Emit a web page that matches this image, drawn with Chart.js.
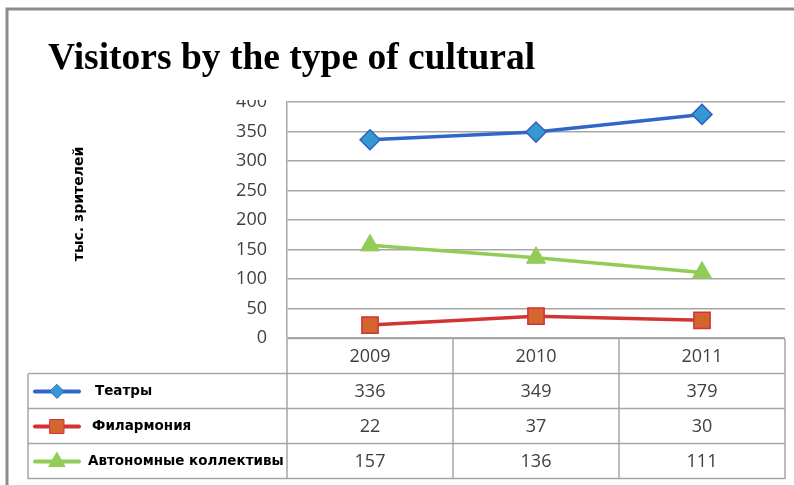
<!DOCTYPE html>
<html>
<head>
<meta charset="utf-8">
<script src="https://cdn.jsdelivr.net/npm/chart.js@4"></script>
<style>
  html, body { margin: 0; padding: 0; background: #fff; }
  canvas { display: block; }
</style>
</head>
<body>
<canvas id="grafica" width="794" height="485"></canvas>
<script>
const years = ['2009', '2010', '2011'];
const teatry = [336, 349, 379];
const filarmonia = [22, 37, 30];
const kollektivy = [157, 136, 111];
const seriesNames = ['Театры', 'Филармония', 'Автономные коллективы'];
const yTicks = [0, 50, 100, 150, 200, 250, 300, 350, 400];

const numFont = '18px "Open Sans", "Noto Sans", sans-serif';
const numColor = '#404040';
const gridColor = '#a6a6a6';

// tabla de datos bajo el eje x + titulo + marco
const tablaPlugin = {
    id: 'tabla',
    afterDraw(chart) {
        const ctx = chart.ctx;
        const area = chart.chartArea;
        const x = chart.scales.x;
        const ds = chart.data.datasets;
        const left = 28, rowH = 35, top = area.bottom + 1;
        const colW = (area.right - area.left) / years.length;
        ctx.save();

        // marco exterior
        ctx.strokeStyle = '#8c8c8c';
        ctx.lineWidth = 3;
        ctx.beginPath();
        ctx.moveTo(7, 485);
        ctx.lineTo(7, 9);
        ctx.lineTo(794, 9);
        ctx.stroke();

        // titulo
        ctx.fillStyle = '#000';
        ctx.font = 'bold 37.5px "Liberation Serif", "Times New Roman", serif';
        ctx.textBaseline = 'alphabetic';
        ctx.textAlign = 'left';
        ctx.fillText('Visitors by the type of cultural', 48, 69);

        // recorte del 400 como en el original
        ctx.fillStyle = '#fff';
        ctx.fillRect(220, 84, 64, 16);

        // titulo eje y
        ctx.save();
        ctx.translate(79, 204);
        ctx.rotate(-Math.PI / 2);
        ctx.fillStyle = '#000';
        ctx.font = 'bold 14px "DejaVu Sans", sans-serif';
        ctx.textAlign = 'center';
        ctx.textBaseline = 'middle';
        ctx.fillText('тыс. зрителей', 0, 0);
        ctx.restore();

        // lineas de la tabla
        ctx.strokeStyle = gridColor;
        ctx.lineWidth = 1.5;
        ctx.beginPath();
        for (let r = 0; r <= 4; r++) {
            const yy = top + r * rowH - 0.5;
            ctx.moveTo(r === 0 ? area.left : left, yy);
            ctx.lineTo(area.right, yy);
        }
        ctx.moveTo(left, top + rowH);
        ctx.lineTo(left, top + 4 * rowH);
        for (let c = 0; c <= years.length; c++) {
            const xx = area.left + c * colW;
            ctx.moveTo(xx, top);
            ctx.lineTo(xx, top + 4 * rowH);
        }
        ctx.stroke();

        // años y valores
        ctx.font = numFont;
        ctx.fillStyle = numColor;
        ctx.textAlign = 'center';
        ctx.textBaseline = 'middle';
        years.forEach((y, i) => {
            const cx = x.getPixelForValue(i);
            ctx.fillText(y, cx, top + rowH / 2);
            ds.forEach((d, j) => {
                ctx.fillText(String(d.data[i]), cx, top + rowH * (j + 1) + rowH / 2);
            });
        });

        // leyenda en la tabla
        const textX = [95, 92, 88];
        ds.forEach((d, j) => {
            const cy = top + rowH * (j + 1) + rowH / 2;
            ctx.strokeStyle = d.borderColor;
            ctx.lineWidth = 4;
            ctx.lineCap = 'round';
            ctx.beginPath();
            ctx.moveTo(35, cy);
            ctx.lineTo(79, cy);
            ctx.stroke();
            ctx.fillStyle = d.pointBackgroundColor;
            ctx.strokeStyle = d.pointBorderColor;
            ctx.lineWidth = 1;
            const mx = 57;
            ctx.beginPath();
            if (d.pointStyle === 'rectRot') {
                ctx.moveTo(mx, cy - 7); ctx.lineTo(mx + 7, cy); ctx.lineTo(mx, cy + 7); ctx.lineTo(mx - 7, cy); ctx.closePath();
            } else if (d.pointStyle === 'rect') {
                ctx.rect(mx - 7, cy - 7, 14, 14);
            } else {
                ctx.moveTo(mx, cy - 9); ctx.lineTo(mx + 8, cy + 5); ctx.lineTo(mx - 8, cy + 5); ctx.closePath();
            }
            ctx.fill();
            ctx.stroke();
            ctx.fillStyle = '#000';
            ctx.font = 'bold 13.5px "DejaVu Sans", sans-serif';
            ctx.textAlign = 'left';
            ctx.fillText(seriesNames[j], textX[j], cy);
            ctx.textAlign = 'center';
        });
        ctx.restore();
    }
};

const grafica1 = document.getElementById('grafica').getContext('2d');
const grafica = new Chart(grafica1, {
    type: 'line',
    data: {
        labels: years,
        datasets: [{
            label: seriesNames[0],
            data: teatry,
            borderColor: '#3066c8',
            pointBackgroundColor: '#3598d0',
            pointBorderColor: '#2f62c4',
            pointStyle: 'rectRot',
            pointRadius: 10,
            pointBorderWidth: 1.5,
            borderWidth: 3.5
        }, {
            label: seriesNames[1],
            data: filarmonia,
            borderColor: '#d23434',
            pointBackgroundColor: '#d2662e',
            pointBorderColor: '#d23434',
            pointStyle: 'rect',
            pointRadius: 11.5,
            pointBorderWidth: 1.5,
            borderWidth: 3.5
        }, {
            label: seriesNames[2],
            data: kollektivy,
            borderColor: '#92cc58',
            pointBackgroundColor: '#92cc58',
            pointBorderColor: '#92cc58',
            pointStyle: 'triangle',
            pointRadius: 11,
            pointBorderWidth: 1,
            borderWidth: 3.5
        }]
    },
    options: {
        responsive: false,
        animation: false,
        layout: { autoPadding: false, padding: { left: 0, top: 102, right: 9, bottom: 147 } },
        plugins: {
            legend: { display: false },
            title: { display: false },
            tooltip: { enabled: false }
        },
        scales: {
            x: {
                offset: true,
                ticks: { display: false },
                grid: { display: false, drawTicks: false },
                border: { display: false }
            },
            y: {
                min: 0,
                max: 400,
                afterBuildTicks: (s) => { s.ticks = yTicks.map(v => ({ value: v })); },
                afterFit: (s) => { s.width = 287; },
                ticks: {
                    padding: 20,
                    color: numColor,
                    font: { family: '"Open Sans", "Noto Sans", sans-serif', size: 18 }
                },
                grid: { color: gridColor, lineWidth: 1.5, drawTicks: false },
                border: { color: gridColor, width: 1.5 }
            }
        }
    },
    plugins: [tablaPlugin]
});
</script>
</body>
</html>
